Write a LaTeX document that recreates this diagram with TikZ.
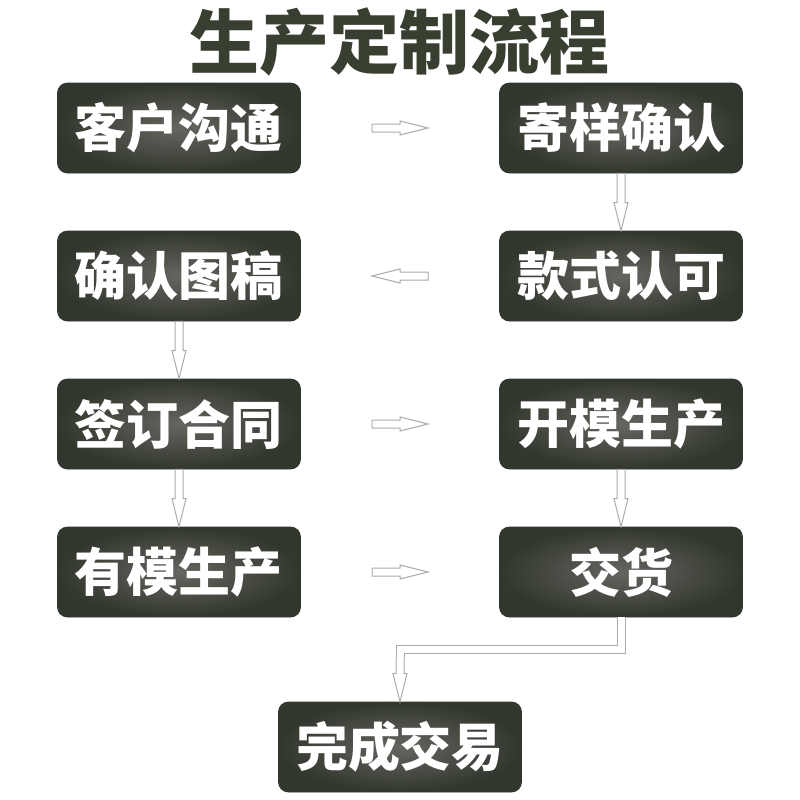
\documentclass[tikz,border=0pt]{standalone}
\usepackage{fontspec}
\newfontfamily\cjk{Noto Sans CJK SC}
\usetikzlibrary{calc}
\definecolor{boxdark}{RGB}{50,55,45}
\definecolor{boxlight}{RGB}{100,102,96}
\definecolor{titlecol}{RGB}{56,62,48}
\definecolor{arrowline}{RGB}{170,170,170}
\tikzset{
 stepbox/.style={rounded corners=5pt,minimum width=121.5pt,minimum height=45pt,inner sep=0pt,
  inner color=boxlight,outer color=boxdark,draw=boxdark,line width=0.4pt,
  text=white,font=\cjk\bfseries\fontsize{26}{26}\selectfont},
 hollow/.style={draw=arrowline,fill=white,line width=0.5pt,
  to path={($(\tikztostart)!2pt!90:(\tikztotarget)$)
   -- ($(\tikztotarget)!14pt!(\tikztostart)!2pt!-90:(\tikztostart)$)
   -- ($(\tikztotarget)!14pt!(\tikztostart)!3.5pt!-90:(\tikztostart)$)
   -- (\tikztotarget)
   -- ($(\tikztotarget)!14pt!(\tikztostart)!3.5pt!90:(\tikztostart)$)
   -- ($(\tikztotarget)!14pt!(\tikztostart)!2pt!90:(\tikztostart)$)
   -- ($(\tikztostart)!2pt!-90:(\tikztotarget)$) -- cycle}},
 hollowtail/.style={draw=arrowline,fill=white,line width=0.5pt,
  to path={($(\tikztostart)!2pt!90:(\tikztotarget)$)
   -- ($(\tikztotarget)!14pt!(\tikztostart)!2pt!-90:(\tikztostart)$)
   -- ($(\tikztotarget)!14pt!(\tikztostart)!3.5pt!-90:(\tikztostart)$)
   -- (\tikztotarget)
   -- ($(\tikztotarget)!14pt!(\tikztostart)!3.5pt!90:(\tikztostart)$)
   -- ($(\tikztotarget)!14pt!(\tikztostart)!2pt!90:(\tikztostart)$)
   -- ($(\tikztostart)!2pt!-90:(\tikztotarget)$)}},
 elbow/.style={draw=arrowline,line width=0.5pt,double=white,double distance=3.5pt}
}
\begin{document}
\begin{tikzpicture}[x=0.5pt,y=-0.5pt]
\useasboundingbox[fill=white] (0,0) rectangle (800,800);
\node[text=titlecol,font=\cjk\bfseries\fontsize{35}{35}\selectfont] (ttl) at (400,42) {生产定制流程};
\foreach \n/\x/\y/\lab in {l1/179/128/客户沟通,r1/621/128/寄样确认,
  l2/179/276/确认图稿,r2/621/276/款式认可,l3/179/424/签订合同,r3/621/424/开模生产,
  l4/179/572/有模生产,r4/621/572/交货,fin/400/747/完成交易}
 {\node[stepbox] (\n) at (\x,\y) {\lab};}
\foreach \i/\s/\t in {1/l/r,2/r/l,3/l/r,4/l/r}
 {\coordinate (m\i) at ($(\s\i.center)!.5!(\t\i.center)$);
  \coordinate (hs\i) at ($(m\i)!14pt!(\s\i.center)$);
  \coordinate (ht\i) at ($(m\i)!14pt!(\t\i.center)$);
  \draw[hollow] (hs\i) to (ht\i);}
\draw[hollow] (r1.south) to (r2.north);
\draw[hollow] (l2.south) to (l3.north);
\draw[hollow] (l3.south) to (l4.north);
\draw[hollow] (r3.south) to (r4.north);
\coordinate (k) at ($(fin.north)+(0pt,22pt)$);
\draw[elbow] (r4.south) -- ++(0pt,-16pt) -| (k);
\draw[hollowtail] (k) to (fin.north);
\end{tikzpicture}
\end{document}
